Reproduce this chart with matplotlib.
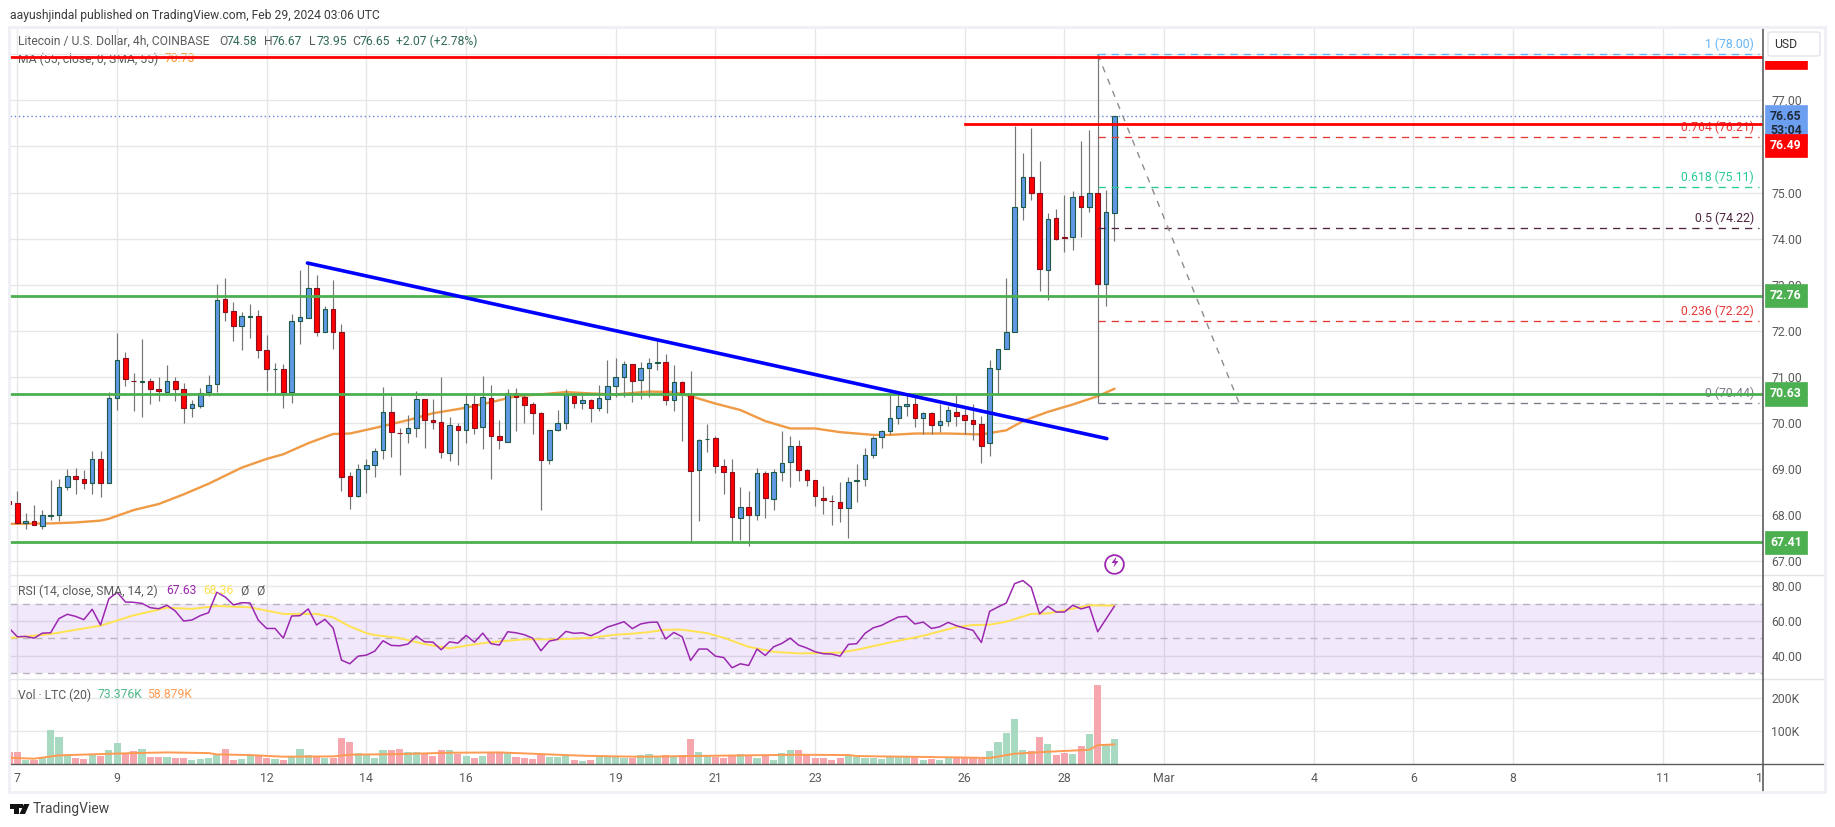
import matplotlib
matplotlib.use("Agg")
import matplotlib.pyplot as plt
from matplotlib.lines import Line2D
from matplotlib.patches import Rectangle, Polygon, FancyBboxPatch
from matplotlib.transforms import blended_transform_factory

plt.rcParams['font.family'] = ['Roboto', 'DejaVu Sans']

# ---- data (bar index: 4-hour bars counted from Feb 7 00:00) ----
first_bar = -1
direction = ("R"
             "RBRBBBBRRB" "RBBRRBRRBR" "RBBBBRRBBR" "RBRBBBRBRR"
             "RBBBBRRBBR" "RRBRBRBRRB" "RRRRBBBRBR" "BBBBRBBBRB"
             "RRBBRRRBRB" "RBBBRRRRRR" "BBBBBBBBRB" "RBBRRRRBBB"
             "BBRRBRRBRB" "RBB")
highs = [68.35,
    68.53,68.05,68.21,68.12,68.77,68.79,69.01,69.03,68.97,69.38,
    69.40,70.68,71.96,71.53,71.08,71.82,70.98,71.00,71.25,71.00,
    70.87,70.49,70.75,71.03,73.01,73.14,72.62,72.40,72.59,72.45,
    71.90,71.29,71.27,72.37,73.32,73.47,73.21,72.53,73.10,72.14,
    68.94,69.10,69.22,69.46,70.79,70.58,69.90,70.18,70.69,70.53,
    70.51,70.99,70.12,69.99,70.66,70.64,71.01,70.82,70.06,70.73,
    70.75,70.62,70.46,70.24,69.85,70.29,70.73,70.62,70.62,70.53,
    70.82,71.36,71.40,71.34,71.27,71.33,71.41,71.78,71.50,71.25,
    70.92,71.12,69.66,69.97,69.72,69.21,69.21,68.62,68.53,69.03,
    68.95,68.99,69.82,69.71,69.62,69.00,68.77,68.64,68.44,68.72,
    68.83,69.10,69.46,69.71,69.85,70.64,70.63,70.64,70.57,70.24,
    70.24,70.42,70.37,70.60,70.37,70.40,70.16,71.36,71.61,73.14,
    76.44,75.86,76.40,75.68,74.56,74.64,74.95,75.03,76.12,76.36,
    78.00,75.06,76.67]
body_top = [68.30,
    68.27,67.87,67.87,68.00,68.00,68.61,68.85,68.85,68.79,69.22,
    69.22,70.55,71.37,71.40,70.92,70.90,70.90,70.74,70.92,70.90,
    70.74,70.40,70.64,70.83,72.66,72.68,72.42,72.33,72.31,72.31,
    71.59,71.18,71.16,72.22,72.29,72.92,72.92,72.48,72.48,71.98,
    68.85,69.00,69.09,69.40,70.24,70.24,69.79,69.90,70.53,70.53,
    70.07,70.03,69.96,69.94,70.40,70.40,70.57,70.55,69.72,70.64,
    70.64,70.57,70.40,70.22,69.85,70.00,70.61,70.59,70.50,70.50,
    70.55,70.81,71.00,71.27,71.27,71.20,71.31,71.33,71.33,70.89,
    70.89,70.62,69.63,69.66,69.68,69.07,68.94,68.18,68.18,68.92,
    68.92,68.94,69.14,69.50,69.50,68.97,68.77,68.37,68.31,68.29,
    68.72,68.77,69.31,69.68,69.83,70.11,70.37,70.42,70.40,70.22,
    70.22,70.05,70.27,70.24,70.18,70.07,69.98,71.20,71.61,71.98,
    74.68,75.33,75.33,74.98,74.42,74.44,74.03,74.90,74.92,74.98,
    74.98,74.57,76.67]
body_bot = [68.25,
    67.82,67.82,67.78,67.77,67.98,68.00,68.61,68.78,68.69,68.69,
    68.69,68.69,70.55,70.96,70.91,70.89,70.74,70.69,70.67,70.74,
    70.32,70.32,70.37,70.67,70.85,72.41,72.11,72.11,72.30,71.59,
    71.17,71.17,70.67,70.67,72.21,72.28,71.98,71.98,71.98,68.82,
    68.41,68.41,69.00,69.08,69.41,69.80,69.78,69.78,69.89,70.06,
    70.02,69.37,69.35,69.85,69.85,69.89,69.91,69.71,69.63,69.59,
    70.56,70.39,70.22,69.19,69.19,69.85,70.00,70.43,70.43,70.32,
    70.32,70.53,70.81,71.00,70.91,70.94,71.20,71.29,70.50,70.50,
    70.64,68.96,68.98,69.65,69.06,68.94,67.96,67.94,68.00,68.00,
    68.37,68.35,68.94,69.16,68.98,68.77,68.42,68.33,68.30,68.16,
    68.16,68.75,68.79,69.31,69.70,69.83,70.11,70.37,70.11,70.11,
    69.95,69.96,70.05,70.15,70.07,69.98,69.50,69.57,71.18,71.61,
    71.97,74.68,75.00,73.33,73.31,74.00,74.02,74.03,74.68,74.68,
    73.02,73.02,74.56]
lows = [68.20,
    67.82,67.70,67.78,67.70,67.89,67.87,68.54,68.45,68.56,68.45,
    68.39,68.69,70.29,70.80,70.25,70.13,70.40,70.47,70.67,70.47,
    70.00,70.13,70.32,70.58,70.67,72.21,71.78,71.58,71.85,71.41,
    70.69,70.66,70.32,70.43,71.71,72.28,71.88,71.98,71.61,68.52,
    68.13,68.39,68.47,68.82,69.21,69.25,68.87,69.56,69.69,69.45,
    69.86,69.23,69.17,69.08,69.56,69.77,69.43,68.79,69.43,69.59,
    69.82,69.99,69.77,68.11,69.10,69.82,69.86,70.33,70.31,70.03,
    70.26,70.21,70.57,70.56,70.45,70.51,70.56,71.15,70.39,70.26,
    69.61,67.40,67.87,69.37,68.92,68.45,67.43,67.45,67.32,67.89,
    67.93,68.12,68.74,68.61,68.74,68.63,68.19,68.03,67.78,67.85,
    67.50,68.28,68.63,69.24,69.45,69.75,69.97,70.16,69.91,69.77,
    69.75,69.80,69.93,69.93,69.75,69.63,69.13,69.28,70.61,71.61,
    71.97,74.40,74.84,72.86,72.67,73.97,73.71,73.75,74.04,74.58,
    70.44,72.54,73.95]

ma_bars = [-1,4,7,10,11,14,17,20,23,27,30,32,35,38,40,43,47,50,54,57,60,63,66,69,72,
           76,79,81,84,87,90,93,96,99,103,105,108,112,116,119,121,124,127,130,132]
ma_vals = [67.81,67.82,67.84,67.88,67.92,68.11,68.24,68.45,68.68,69.03,69.22,69.32,69.56,
           69.76,69.77,69.89,70.06,70.21,70.33,70.45,70.58,70.62,70.67,70.64,70.62,
           70.68,70.67,70.58,70.42,70.28,70.04,69.88,69.88,69.80,69.74,69.74,69.77,69.77,
           69.75,69.84,70.04,70.24,70.40,70.58,70.74]

rsi_vals = [55.9,
    50.9,51.1,50.1,53.0,53.2,61.4,63.9,62.7,60.8,66.8,
    57.7,72.8,76.6,71.0,70.8,70.2,67.7,67.1,69.1,65.8,
    60.0,60.6,63.1,64.8,76.6,73.9,69.3,70.6,70.4,60.4,
    55.7,55.7,50.1,62.9,63.1,67.0,57.7,61.0,55.9,37.4,
    35.3,39.7,40.3,42.6,48.6,45.9,45.7,46.7,51.3,48.0,
    47.8,43.4,48.0,47.2,51.7,47.8,53.0,46.9,46.1,53.8,
    53.2,52.1,50.1,42.8,48.4,49.4,54.0,52.9,53.2,51.5,
    53.6,56.5,58.0,59.6,55.6,58.3,59.2,59.4,49.6,53.4,
    50.9,37.2,43.8,43.8,39.7,38.9,33.0,35.3,34.3,43.8,
    40.1,45.1,47.1,50.1,46.1,44.4,42.2,41.1,40.9,39.7,
    46.5,46.9,52.9,56.1,57.5,60.0,62.3,62.7,58.3,59.4,
    55.7,56.7,59.2,57.3,55.9,54.6,47.6,65.6,68.1,70.4,
    81.6,83.4,79.5,64.1,68.5,65.2,65.2,69.1,67.0,68.3,
    53.8,61.2,68.5]
rsi_ma_bars = [-1,4,10,14,18,21,24,28,32,36,38,40,42,43,46,49,52,55,57,61,65,69,72,
               74,76,78,80,83,85,88,91,94,97,99,101,105,109,113,115,117,119,122,124,126,129,132]
rsi_ma_vals = [50.1,52.5,57.3,63.3,67.7,67.0,68.7,67.9,64.1,64.1,62.1,56.9,53.0,51.9,50.1,
               46.7,44.2,46.5,47.8,49.4,49.4,50.3,52.1,52.7,53.6,55.0,55.0,53.0,50.3,45.1,
               42.2,41.3,41.5,41.8,43.4,47.6,51.5,56.5,57.7,57.9,59.6,64.1,64.4,66.2,69.1,68.9]

volumes_k = [36,
    36,13,13,18,102,81,25,18,15,26,
    25,42,63,30,39,45,21,21,21,18,
    18,12,15,18,28,45,12,15,24,24,
    18,15,12,22,45,27,22,18,18,78,
    66,33,27,18,42,42,45,36,36,31,
    24,42,42,30,24,18,24,36,36,33,
    21,18,15,30,21,21,24,12,9,12,
    21,21,21,18,18,27,30,21,27,21,
    27,75,36,25,21,18,24,30,24,18,
    24,12,33,42,42,27,18,18,12,18,
    24,21,18,18,15,21,21,21,24,12,
    15,12,18,21,21,18,15,39,66,93,
    135,42,39,81,60,27,33,30,54,90,
    240,57,75]
vol_ma_bars = [-1,2,5,10,14,18,23,24,28,32,38,40,46,52,58,62,68,72,75,84,94,100,101,113,117,120,124,129,130,132]
vol_ma_k = [19,16,26,30,33,35,33,29,27,22,23,28,30,34,35,31,25,23,22,25,28,27,24,20,18,31,37,43,57,59]

price_ticks = [67,68,69,70,71,72,73,74,75,76,77,78]
rsi_ticks = [40,60,80]
vol_ticks = [100,200]
day_bars = [0,12,30,42,54,72,84,96,114,126,138,156,168,180,198,210]
day_labels = ['7','9','12','14','16','19','21','23','26','28','Mar','4','6','8','11','13']

fib_levels = [1,0.764,0.618,0.5,0.236,0]
fib_prices = [78.00,76.21,75.11,74.22,72.22,70.44]
fib_colors = ['#64b5f6','#e53935','#26c99a','#4e2440','#e53935','#787b86']
fib_text = ['1 (78.00)','0.764 (76.21)','0.618 (75.11)','0.5 (74.22)','0.236 (72.22)','0 (70.44)']
fib_start_bar = 130
fib_diag_end_bar = 147

red_full = 77.94
red_part = 76.49
red_part_start = 114
green_levels = [72.76,70.63,67.41]
trend_bars = [34.9,131.1]
trend_prices = [73.47,69.66]
last_price = 76.65

# ---- layout ----
W, H = 1835, 827
L, R = 9.5, 1763.0
Y_TOP, Y_P, Y_R, Y_V, Y_B = 28.0, 575.0, 679.0, 764.0, 791.0
BAR = 8.31
X0 = 17.4
GRID = '#e7e7e7'
TXT = '#5a5a5a'

fig = plt.figure(figsize=(W/100, H/100), dpi=100, facecolor='white')

def make_ax(yt, yb):
    ax = fig.add_axes([L/W, 1-yb/H, (R-L)/W, (yb-yt)/H])
    ax.set_facecolor('none')
    for s in ax.spines.values():
        s.set_visible(False)
    ax.set_xlim((L-X0)/BAR, (R-X0)/BAR)
    ax.set_xticks(day_bars)
    ax.grid(True, color=GRID, lw=1.0)
    ax.set_axisbelow(True)
    ax.tick_params(length=0, labelcolor=TXT, labelsize=8.8, labelbottom=False, labelleft=False,
                   labelright=True, right=False, pad=6)
    return ax

ax_p = make_ax(Y_TOP, Y_P)
ax_r = make_ax(Y_P, Y_R)
ax_v = make_ax(Y_R, Y_V)

# price pane
ax_p.set_ylim(66.70, 78.57)
ax_p.set_yticks(price_ticks)
ax_p.set_yticklabels([f'{v:.2f}' for v in price_ticks])

bars = [first_bar+i for i in range(len(highs))]
UP, DOWN = '#6098e6', '#ff0000'
for b, h, t, bt, l, d in zip(bars, highs, body_top, body_bot, lows, direction):
    ax_p.plot([b, b], [l, h], color='#757575', lw=0.85, zorder=3, solid_capstyle='butt')
    ax_p.bar(b, t-bt, bottom=bt, width=0.55, color=UP if d == 'B' else DOWN,
             edgecolor='#1d5a45' if d == 'B' else '#8a1020', linewidth=0.8, zorder=3)

ax_p.plot(ma_bars, ma_vals, color='#ef9a45', lw=1.7, zorder=2)

ax_p.axhline(last_price, color='#5a86e0', lw=1.0, ls=(0, (1, 2)), zorder=2)
for g in green_levels:
    ax_p.axhline(g, color='#4caf50', lw=2.0, zorder=5)
ax_p.axhline(red_full, color='#ff0000', lw=2.0, zorder=5)
ax_p.plot([red_part_start, 999], [red_part, red_part], color='#ff0000', lw=2.0, zorder=5)
ax_p.plot(trend_bars, trend_prices, color='#0000ff', lw=2.6, zorder=6, solid_capstyle='round')

tr = blended_transform_factory(ax_p.transAxes, ax_p.transData)
for p, c, s in zip(fib_prices, fib_colors, fib_text):
    ax_p.plot([fib_start_bar, (R-X0)/BAR-0.5], [p, p], color=c, lw=0.95, ls=(0, (5.5, 4.5)), zorder=4)
    ax_p.annotate(s, (1, p), xycoords=tr, xytext=(-9, 3), textcoords='offset pixels',
                  ha='right', va='bottom', color=c, fontsize=8.8, zorder=4)
ax_p.plot([fib_start_bar, fib_diag_end_bar], [fib_prices[0], fib_prices[-1]], color='#8c8c8c',
          lw=1.0, ls=(0, (4.5, 5)), zorder=4)

def tag(p, s, fc, tc='white', dy=0):
    ax_p.annotate(s, (1, p), xycoords=tr, xytext=(7, dy), textcoords='offset pixels',
                  ha='left', va='center', color=tc, fontsize=8.8, fontweight='bold', zorder=9,
                  annotation_clip=False, linespacing=1.15,
                  bbox=dict(boxstyle='square,pad=0.42', fc=fc, ec=fc, lw=0.5))

tag(red_full, f'{red_full:.2f}', '#ff0000')
tag(green_levels[0], f'{green_levels[0]:.2f}', '#4caf50')
tag(green_levels[1], f'{green_levels[1]:.2f}', '#4caf50')
tag(green_levels[2], f'{green_levels[2]:.2f}', '#4caf50')
tag(last_price, f'{last_price:.2f}\n53:04', '#6c9ff0', '#1f2a3a', dy=-7)
tag(red_part, f'{red_part:.2f}', '#ff0000', dy=-21.5)

# rsi pane
ax_r.set_ylim(26.5, 86.6)
ax_r.set_yticks(rsi_ticks)
ax_r.set_yticklabels([f'{v:.2f}' for v in rsi_ticks])
ax_r.axhspan(30, 70, facecolor='#8a35e6', alpha=0.115, lw=0, zorder=1)
for lvl in (30, 50, 70):
    ax_r.axhline(lvl, color='#b9b2bf', lw=1.0, ls=(0, (5, 4)), zorder=1.5)
ax_r.plot(rsi_ma_bars, rsi_ma_vals, color='#ffe24f', lw=1.4, zorder=2)
ax_r.plot(bars, rsi_vals, color='#9c27b0', lw=1.1, zorder=3)

# volume pane
ax_v.set_ylim(0, 256.8)
ax_v.set_yticks(vol_ticks)
ax_v.set_yticklabels([f'{v}K' for v in vol_ticks])
ax_v.bar(bars, volumes_k, width=0.86,
         color=['#a8d9c1' if d == 'B' else '#f6a6ad' for d in direction], zorder=2)
ax_v.plot(vol_ma_bars, vol_ma_k, color='#ff9a52', lw=1.4, zorder=3)
ax_v.tick_params(axis='x', labelbottom=True, pad=6, labelsize=8.8)
ax_v.set_xticklabels(day_labels)

# frame and separators, in pixel positions
def px_line(x0, y0, x1, y1, c, lw, z=4):
    fig.add_artist(Line2D([x0/W, x1/W], [1-y0/H, 1-y1/H], color=c, lw=lw, zorder=z,
                          transform=fig.transFigure))

fig.add_artist(Rectangle((R/W, 1-790/H), 61/W, 25/H, fc='white', ec='none',
                         transform=fig.transFigure, zorder=3))
fig.add_artist(Rectangle((R/W, 1-60.7/H), 61/W, 33/H, fc='white', ec='none',
                         transform=fig.transFigure, zorder=3))
for y in (Y_P, Y_R):
    px_line(L, y, 1825, y, '#e4e4ea', 1.0)
px_line(L, Y_V, 1825, Y_V, '#5c5c5c', 1.0)
px_line(R, Y_TOP, R, Y_B, '#5c5c5c', 1.2)
fig.add_artist(Rectangle((9/W, 1-791.5/H), (1825-9)/W, (791.5-27)/H, fc='none', ec='#eef0f6', lw=2.0,
                         transform=fig.transFigure, zorder=4))

def txt(x, y, s, c=TXT, size=8.8, z=7, **kw):
    fig.text(x/W, 1-y/H, s, color=c, fontsize=size, va='center', ha=kw.pop('ha', 'left'), zorder=z, **kw)

txt(9.5, 16, 'aayushjindal published on TradingView.com, Feb 29, 2024 03:06 UTC', '#3c3c3c', 8.7)
txt(18, 41.5, 'Litecoin / U.S. Dollar, 4h, COINBASE', TXT, 8.7)
OHLC = '#2f6b57'
for x, a, b in [(219, 'O', '74.58'), (264, 'H', '76.67'), (309, 'L', '73.95'), (352, 'C', '76.65')]:
    txt(x, 41.5, a, TXT, 8.7)
    txt(x+8, 41.5, b, OHLC, 8.7)
txt(396, 41.5, '+2.07 (+2.78%)', OHLC, 8.7)
txt(18, 59, 'MA (55, close, 0, SMA, 55)', TXT, 8.7, z=-1)
txt(165, 59, '70.73', '#f7931e', 8.7, z=-1)
txt(18, 591, 'RSI (14, close, SMA, 14, 2)', TXT, 8.7)
txt(166, 591, '67.63', '#9c27b0', 8.7)
txt(203, 591, '68.36', '#ffe24f', 8.7)
txt(240, 591, 'Ø', TXT, 8.7)
txt(256, 591, 'Ø', TXT, 8.7)
txt(18, 695, 'Vol · LTC (20)', TXT, 8.7)
txt(97.5, 695, '73.376K', '#4fb98a', 8.7)
txt(147, 695, '58.879K', '#ff9a52', 8.7)
txt(33, 809, 'TradingView', '#444444', 10.0)

# USD button
fig.add_artist(FancyBboxPatch((1768/W, 1-56/H), 52/W, 24/H, boxstyle='round,pad=0,rounding_size=0.002',
                              fc='white', ec='#e6e9f0', lw=1.2, transform=fig.transFigure, zorder=8))
txt(1786, 44, 'USD', '#333333', 8.8, z=9, ha='center')

# TradingView logo
def poly(pts, c, z=7):
    fig.add_artist(Polygon([(x/W, 1-y/H) for x, y in pts], closed=True, fc=c, ec='none',
                           transform=fig.transFigure, zorder=z))

poly([(9.5, 804), (18.5, 804), (18.5, 814), (14, 814), (14, 808.5), (9.5, 808.5)], '#111111')
poly([(24, 804), (29.5, 804), (25, 814), (19.5, 814)], '#111111')
poly([(19.2, 804), (22.6, 804), (22.6, 807.5), (19.2, 807.5)], '#111111')

# bolt marker below the last bars
ax_p.plot([132], [66.93], marker='o', ms=13.5, mfc='white', mec='#9c27b0', mew=1.3, zorder=6,
          clip_on=False)
poly([(1116.5, 556.5), (1111.5, 563), (1114.8, 563), (1113.5, 567.5), (1118.5, 561), (1115.2, 561)], '#9c27b0')

fig.savefig('out.png', dpi=100, facecolor='white')
